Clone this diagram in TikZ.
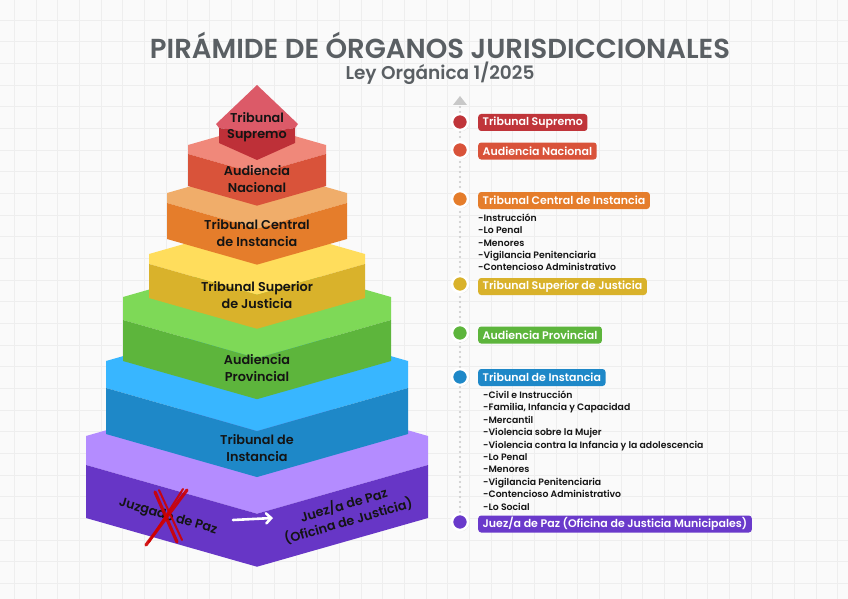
\documentclass[tikz,border=0pt]{standalone}
\usepackage{fontspec}
\setmainfont{Poppins}
\newfontfamily\popsb{Poppins SemiBold}
\usetikzlibrary{arrows.meta,shadows}
\definecolor{bgc}{HTML}{FAFAFA}
\definecolor{gridc}{HTML}{EEEEEE}
\definecolor{titlec}{HTML}{5A5F63}
\definecolor{supL}{HTML}{DC5A68}\definecolor{supD}{HTML}{BE3038}
\definecolor{anL}{HTML}{F0887A}\definecolor{anD}{HTML}{D9533A}
\definecolor{tciL}{HTML}{F0AD6A}\definecolor{tciD}{HTML}{E57D2B}
\definecolor{tsjL}{HTML}{FFDD5C}\definecolor{tsjD}{HTML}{D9B22B}
\definecolor{apL}{HTML}{7ED957}\definecolor{apD}{HTML}{5DB53C}
\definecolor{tiL}{HTML}{38B6FF}\definecolor{tiD}{HTML}{1E88C8}
\definecolor{jpL}{HTML}{B48CFF}\definecolor{jpD}{HTML}{6736C6}
\definecolor{supB}{HTML}{C0353A}\definecolor{jpB}{HTML}{6A3ACB}
\definecolor{xred}{HTML}{D00000}
\definecolor{dotc}{HTML}{C8C8C8}
\definecolor{txt}{HTML}{141414}
\newcommand\pyrlayer[6]{%
  \pgfmathsetmacro\pxR{514-#1}%
  \pgfmathsetmacro\pdd{0.285*(257-#1)}%
  \fill[#5] (#1,#2) -- (257,{#2-\pdd}) -- (\pxR,#2) -- (\pxR,#3) -- (257,{#3+\pdd}) -- (#1,#3) -- cycle;
  \fill[#6] (#1,#3) -- (257,{#3+\pdd}) -- (\pxR,#3) -- (\pxR,#4) -- (257,{#4+\pdd}) -- (#1,#4) -- cycle;
}
\begin{document}
\begin{tikzpicture}[x=1pt,y=-1pt,
  pyrtext/.style={align=center,text=txt,font=\popsb\fontsize{12.8}{16.5}\selectfont,inner sep=0pt},
  lbl/.style={anchor=west,rounded corners=3pt,text=white,font=\popsb\fontsize{11}{12}\selectfont,inner xsep=4.5pt,inner ysep=0pt,minimum height=17pt},
  item/.style={anchor=base west,text=txt,font=\popsb\fontsize{9.3}{10}\selectfont,inner sep=0pt},
  tdot/.style={circle,draw=white,line width=2.5pt,minimum size=16pt,inner sep=0pt,
    drop shadow={opacity=0.18,shadow xshift=1.2pt,shadow yshift=-1.2pt}}]
\useasboundingbox (0,0) rectangle (848,599);
\fill[bgc] (0,0) rectangle (848,599);
\foreach \i in {0,...,38} \draw[gridc,line width=0.9pt] ({14.3+21.67*\i},0) -- ({14.3+21.67*\i},599);
\foreach \i in {0,...,27} \draw[gridc,line width=0.9pt] (0,{20+21.67*\i}) -- (848,{20+21.67*\i});

% title
\node[text=titlec,inner sep=0pt] (title) at (440,45) {\resizebox{580pt}{!}{\popsb\fontsize{25}{30}\selectfont PIRÁMIDE DE ÓRGANOS JURISDICCIONALES}};
\node[text=titlec,inner sep=0pt,font=\popsb\fontsize{18.5}{20}\selectfont] (subtitle) at (440,73) {Ley Orgánica 1/2025};

% pyramid
\pyrlayer{86}{436}{465}{518}{jpL}{jpD}
\pyrlayer{106}{361}{388}{434}{tiL}{tiD}
\pyrlayer{123}{297}{320}{361}{apL}{apD}
\pyrlayer{149}{254}{264}{298}{tsjL}{tsjD}
\pyrlayer{167}{193}{203}{239}{tciL}{tciD}
\pyrlayer{188}{145}{154}{186}{anL}{anD}
\fill[supL] (257,85) -- (216,124) -- (219,128) -- (257,133) -- (295,128) -- (298,124) -- cycle;
\fill[supD] (219,128) -- (257,133) -- (295,128) -- (295,143) -- (257,160) -- (219,143) -- cycle;

\node[pyrtext] (tsup) at (257,127) {Tribunal\\Supremo};
\node[pyrtext] (tan) at (257,179) {Audiencia\\Nacional};
\node[pyrtext] (ttci) at (257,233) {Tribunal Central\\de Instancia};
\node[pyrtext] (ttsj) at (257,295) {Tribunal Superior\\de Justicia};
\node[pyrtext] (tap) at (257,368) {Audiencia\\Provincial};
\node[pyrtext] (tti) at (257,448) {Tribunal de\\Instancia};
\node[pyrtext,rotate=-16] (tjz) at (168,517) {Juzgado de Paz};
\node[pyrtext,rotate=16] (tjp) at (346,513) {Juez/a de Paz\\(Oficina de Justicia)};
\coordinate (arrS) at (233,520);
\coordinate (arrE) at (273,518);
\draw[white,line width=2.6pt,line cap=round,-{Straight Barb[length=5pt,width=10pt,line cap=round]}] (arrS) -- (arrE);
% red cross
\begin{scope}[xred,line cap=round,opacity=0.9]
\draw[line width=3.2pt] (155,492) -- (177,542);
\draw[line width=2pt] (159,490) -- (182,540);
\draw[line width=3.2pt] (187,490) -- (146,545);
\draw[line width=2pt] (183,489) -- (149,542);
\end{scope}

% timeline
\coordinate (tltop) at (460,107);
\coordinate (tlbot) at (460,519);
\draw[dotc,line width=2.4pt,line cap=round,dash pattern=on 0pt off 5pt] (tltop) -- (tlbot);
\fill[dotc] (460,96) -- (467,105) -- (453,105) -- cycle;

\node[tdot,fill=supB] (d1) at (460,122) {};
\node[tdot,fill=anD] (d2) at (460,150) {};
\node[tdot,fill=tciD] (d3) at (460,199) {};
\node[tdot,fill=tsjD] (d4) at (460,284) {};
\node[tdot,fill=apD] (d5) at (460,333) {};
\node[tdot,fill=tiD] (d6) at (460,377) {};
\node[tdot,fill=jpB] (d7) at (460,522) {};

\node[lbl,fill=supB] (b1) at (478,122.5) {Tribunal Supremo};
\node[lbl,fill=anD] (b2) at (478,151) {Audiencia Nacional};
\node[lbl,fill=tciD] (b3) at (478,200.5) {Tribunal Central de Instancia};
\node[lbl,fill=tsjD] (b4) at (478,286.5) {Tribunal Superior de Justicia};
\node[lbl,fill=apD] (b5) at (478,335) {Audiencia Provincial};
\node[lbl,fill=tiD] (b6) at (478,377.5) {Tribunal de Instancia};
\node[lbl,fill=jpB] (b7) at (478,524) {Juez/a de Paz (Oficina de Justicia Municipales)};

\foreach \t [count=\i] in {-Instrucción,-Lo Penal,-Menores,-Vigilancia Penitenciaria,-Contencioso Administrativo}
  \node[item] (ca\i) at (478,{209+12.35*\i}) {\t};
\foreach \t [count=\i] in {-Civil e Instrucción,{-Familia, Infancia y Capacidad},-Mercantil,-Violencia sobre la Mujer,-Violencia contra la Infancia y la adolescencia,-Lo Penal,-Menores,-Vigilancia Penitenciaria,-Contencioso Administrativo,-Lo Social}
  \node[item] (cb\i) at (483,{385.8+12.45*\i}) {\t};
\end{tikzpicture}
\end{document}
